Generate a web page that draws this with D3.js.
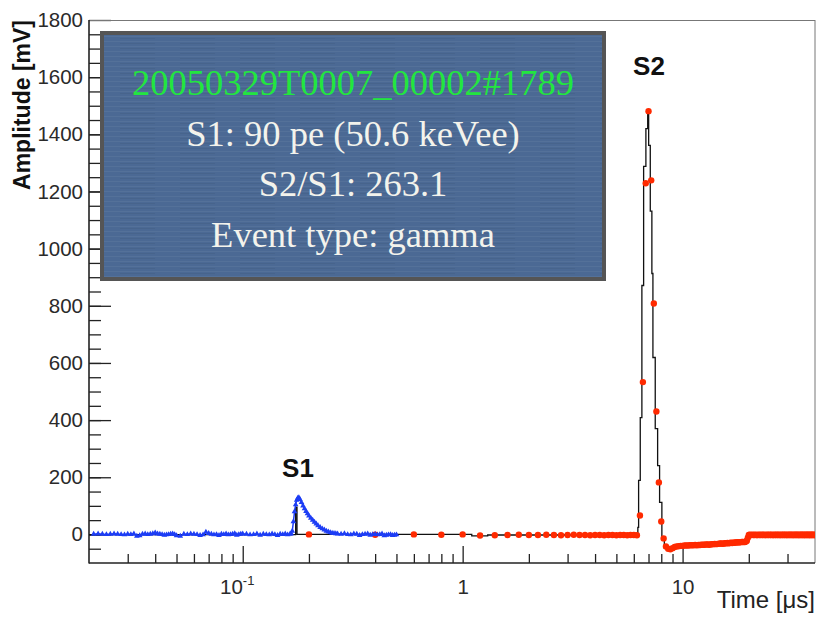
<!DOCTYPE html>
<html>
<head>
<meta charset="utf-8">
<script src="https://cdn.jsdelivr.net/npm/d3@7/dist/d3.min.js"></script>
<style>
body { margin: 0; background: #fff; }
</style>
</head>
<body>
<svg id="graph" width="816" height="618"></svg>
<script>

// ---- data (time in us, amplitude in mV) ----

// fast channel (blue triangles), S1 region
var blueT1 = [0.021,0.022,0.023,0.024,0.025,0.026,0.027,0.028,0.029,0.030,0.031,0.032,0.033,0.034,0.035,
              0.036,0.037,0.038,0.039,0.040,0.041,0.042,0.043,0.044,0.045,0.046,0.047,0.048,0.049,0.050];
var blueV1 = [1,2,1,0,1,2,1,0,-1,1, 0,2,-6,-4,1,2,0,1,3,6, 2,1,0,-2,-1,0,1,2,0,-4];
var blueT2 = [0.052,0.054,0.056,0.058,0.060,0.062,0.064,0.066,0.068,0.070,0.072,0.074,0.076,0.078,0.080,
              0.082,0.084,0.086,0.088,0.090,0.092,0.094,0.096,0.098,0.100];
var blueV2 = [-6,1,0,2,1,0,-3,-1,8,4,1,-1,0,-3,1,0,2,-1,0,1,3,-2,0,1,2];
var blueT3 = [0.104,0.108,0.112,0.116,0.120,0.124,0.128,0.132,0.136,0.140,0.144,0.148,0.152,0.156,0.160,0.164];
var blueV3 = [1,-1,0,2,-2,1,0,-1,2,0,-3,1,0,2,-1,1];
var blueT4 = [0.166,0.168,0.170,0.172,0.174,0.176,0.178,0.180,0.182,0.185,0.188,0.191,0.194,0.197,0.200,
              0.204,0.208,0.212,0.216,0.220,0.225,0.230,0.235,0.240,0.245,0.250,0.255,0.260,0.265];
var blueV4 = [3,12,45,80,104,120,127,129,123,112,100,90,81,73,65,57,50,43,37,31,25,20,16,12,9,7,5,4,3];
var blueT5 = [0.27,0.28,0.29,0.30,0.31,0.32,0.33,0.34,0.35,0.36,0.37,0.38,0.39,0.40,0.41,0.42,0.43,0.44,
              0.45,0.46,0.47,0.48,0.49,0.50];
var blueV5 = [2,1,3,0,-1,2,1,-3,0,1,2,-2,0,1,-1,0,2,-4,-2,-1,0,-3,-2,-1];

// slow channel (red dots), one sample every 0.2 us starting at 0.2 us
var redStep = 0.2;
var redV = [
  0,-1,0,-1,0,-4,-3,-2,-1,-2,
  -2,-1,-2,-3,-2,-1,-2,-2,-3,-2,
  -2,-3,-2,-2,-3,-2,-2,-3,-2,-2,-3,
  66,533,1229,1481,1239,808,430,182,45,-14,
  -42,-50,-52,-48,-44,-42,-41,-40,-40,-39,
  -39,-39,-38,-38,-38,-37,-38,-37,-37,-36,
  -36,-36,-35,-35,-36,-35,-34,-34,-33,-34,
  -33,-33,-32,-32,-33,-32,-31,-31,-30,-31,
  -30,-29,-30,-29,-29,-28,-28,-27,-28,-27,
  -27,-26,-26,-27,-26,-25,-22,-12,
  -2,-1,-2,-2,-1,-2,-2,-1,-2,-2,
  -2,-1,-2,-2,-1,-2,-2,-1,-2,-2,
  -2,-1,-2,-2,-1,-2,-2,-1,-2,-2,
  -2,-1,-2,-2,-1,-2,-2,-1,-2,-2,
  -2,-1,-2,-2,-1,-2,-2,-1,-2,-2,
  -2,-1,-2,-2,-1,-2,-2,-1,-2,-2,
  -2,-1,-2,-2,-1,-2,-2,-1,-2,-2,
  -2,-1,-2,-2,-1,-2,-2,-1,-2,-2,
  -2,-1,-2,-2,-1,-2,-2,-1,-2,-2,
  -2,-1,-2,-2,-1,-2,-2,-1,-2,-2,
  -2
];

// summed waveform (black step line)
var blackT = [0.02,0.174,0.1765,1.1,1.3,6.26,6.31,6.42,6.53,6.65,6.81,6.94,7.01,7.13,7.25,7.33,
              7.51,7.70,7.86,8.05,8.26,8.64,9.2,10.6,14.6,19.5,20.2,40];
var blackV = [-1,95,0,-5,-2,25,189,409,871,1288,1420,1481,1361,1131,913,619,
              370,241,112,-14,-45,-50,-42,-38,-33,-5,-2,-2];

// axes
var yTickLabels = [0,200,400,600,800,1000,1200,1400,1600,1800];
var yMinorTicks = [-50,0,50,100,150,200,250,300,350,400,450,500,550,600,650,700,750,800,850,900,950,
                   1000,1050,1100,1150,1200,1250,1300,1350,1400,1450,1500,1550,1600,1650,1700,1750];
var xTickLabels = [0.1,1,10];
var xMinorTicks = [0.03,0.04,0.05,0.06,0.07,0.08,0.09,0.2,0.3,0.4,0.5,0.6,0.7,0.8,0.9,2,3,4,5,6,7,8,9,20,30];

var infoLines = ["20050329T0007_00002#1789", "S1: 90 pe (50.6 keVee)", "S2/S1: 263.1", "Event type: gamma"];
var infoColors = ["#22e63f", "#f3f3ec", "#f3f3ec", "#f3f3ec"];

// ---- build ----
var blue = [];
[[blueT1,blueV1],[blueT2,blueV2],[blueT3,blueV3],[blueT4,blueV4],[blueT5,blueV5]].forEach(function(s) {
    for (var i = 0; i < s[0].length; i++) blue.push([s[0][i], s[1][i]]);
});
var red = redV.map(function(v, i) { return [+((i + 1) * redStep).toFixed(1), v]; });
var black = blackT.map(function(t, i) { return [t, blackV[i]]; });

var svg = d3.select("#graph");
var x = d3.scaleLog().domain([0.02, 40]).range([89, 815]);
var y = d3.scaleLinear().domain([-100, 1800]).range([563, 20]);

var defs = svg.append("defs");
defs.append("clipPath").attr("id", "plotclip")
    .append("rect").attr("x", 89).attr("y", 20).attr("width", 726).attr("height", 543);

var pat = defs.append("pattern").attr("id", "streaks").attr("patternUnits", "userSpaceOnUse")
    .attr("width", 60).attr("height", 5);
pat.append("rect").attr("width", 60).attr("height", 5).attr("fill", "#4b6994");
pat.append("rect").attr("y", 1).attr("width", 60).attr("height", 1).attr("fill", "rgba(255,255,255,0.05)");
pat.append("rect").attr("y", 3).attr("width", 35).attr("height", 1).attr("fill", "rgba(0,0,0,0.05)");

// y axis
var yAxis = svg.append("g").attr("transform", "translate(89,0)")
    .call(d3.axisLeft(y).tickValues(yTickLabels).tickSizeInner(-22).tickSizeOuter(0).tickPadding(6)
        .tickFormat(d3.format("d")));
svg.append("g").attr("transform", "translate(89,0)")
    .call(d3.axisLeft(y).tickValues(yMinorTicks).tickSizeInner(-12).tickSizeOuter(0).tickFormat(""));

// x axis
var xAxis = svg.append("g").attr("transform", "translate(0,563)")
    .call(d3.axisBottom(x).tickValues(xTickLabels).tickSizeInner(-17).tickSizeOuter(0).tickPadding(16)
        .tickFormat(function(d) { return d >= 1 ? d3.format("d")(d) : "10"; }));
svg.append("g").attr("transform", "translate(0,563)")
    .call(d3.axisBottom(x).tickValues(xMinorTicks).tickSizeInner(-9).tickSizeOuter(0).tickFormat(""));

svg.selectAll(".domain").remove();
svg.selectAll(".tick line").attr("stroke", "#222").attr("stroke-width", 1.3);
svg.selectAll(".tick text").attr("fill", "#2a2a2a").attr("font-family", "Liberation Sans, Arial, sans-serif")
    .attr("font-size", 20.5);

xAxis.selectAll(".tick text").filter(function(d) { return d < 1; })
    .attr("dx", "-6")
    .append("tspan").attr("dy", "-9").attr("font-size", 13).text("-1");

// frame
svg.append("line").attr("x1", 89).attr("x2", 815).attr("y1", 20.5).attr("y2", 20.5).attr("stroke", "#777");
svg.append("line").attr("x1", 815).attr("x2", 815).attr("y1", 20).attr("y2", 563).attr("stroke", "#777");
svg.append("line").attr("x1", 89).attr("x2", 89).attr("y1", 20).attr("y2", 563.5)
    .attr("stroke", "#222").attr("stroke-width", 1.6);
svg.append("line").attr("x1", 89).attr("x2", 815).attr("y1", 563).attr("y2", 563)
    .attr("stroke", "#222").attr("stroke-width", 1.6);

// data
var plot = svg.append("g").attr("clip-path", "url(#plotclip)");

plot.append("path").datum(black)
    .attr("fill", "none").attr("stroke", "#111").attr("stroke-width", 1.3)
    .attr("d", d3.line().curve(d3.curveStepAfter)
        .x(function(d) { return x(d[0]); }).y(function(d) { return y(d[1]); }));

plot.selectAll("circle.red").data(red).enter().append("circle")
    .attr("class", "red")
    .attr("cx", function(d) { return x(d[0]); })
    .attr("cy", function(d) { return y(d[1]); })
    .attr("r", 3.2)
    .attr("fill", "#ff2a00");

plot.append("path").datum(blue)
    .attr("fill", "none").attr("stroke", "#1d3df5").attr("stroke-width", 1.5)
    .attr("d", d3.line().x(function(d) { return x(d[0]); }).y(function(d) { return y(d[1]); }));

var tri = d3.symbol().type(d3.symbolTriangle).size(14);
plot.selectAll("path.blue").data(blue).enter().append("path")
    .attr("class", "blue")
    .attr("transform", function(d) { return "translate(" + x(d[0]) + "," + y(d[1]) + ")"; })
    .attr("d", tri)
    .attr("fill", "#1d3df5");

// peak labels
svg.append("text").attr("x", 298).attr("y", 477).attr("text-anchor", "middle")
    .attr("font-family", "Liberation Sans, Arial, sans-serif").attr("font-weight", "bold")
    .attr("font-size", 26).attr("fill", "#111").text("S1");
svg.append("text").attr("x", 649).attr("y", 75).attr("text-anchor", "middle")
    .attr("font-family", "Liberation Sans, Arial, sans-serif").attr("font-weight", "bold")
    .attr("font-size", 26).attr("fill", "#111").text("S2");

// axis titles
svg.append("text").attr("transform", "translate(29.5,20) rotate(-90)").attr("text-anchor", "end")
    .attr("font-family", "Liberation Sans, Arial, sans-serif").attr("font-weight", "bold")
    .attr("font-size", 23).attr("fill", "#111").text("Amplitude [mV]");
svg.append("text").attr("x", 815).attr("y", 608).attr("text-anchor", "end")
    .attr("font-family", "Liberation Sans, Arial, sans-serif")
    .attr("font-size", 24).attr("fill", "#222").text("Time [\u03bcs]");

// info box
svg.append("rect").attr("x", 102).attr("y", 33).attr("width", 502).attr("height", 246)
    .attr("fill", "url(#streaks)").attr("stroke", "#555").attr("stroke-width", 4);
svg.selectAll("text.info").data(infoLines).enter().append("text")
    .attr("class", "info")
    .attr("x", 353)
    .attr("y", function(d, i) { return 95 + i * 50.7; })
    .attr("text-anchor", "middle")
    .attr("font-family", "Liberation Serif, Times New Roman, serif")
    .attr("font-size", 36.5)
    .attr("fill", function(d, i) { return infoColors[i]; })
    .text(function(d) { return d; });

</script>
</body>
</html>
